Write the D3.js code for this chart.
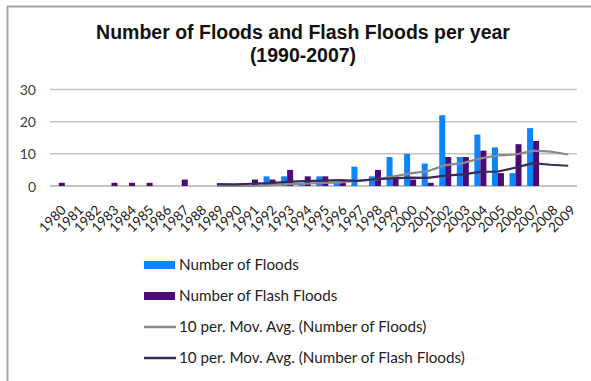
<!DOCTYPE html>
<html>
<head>
<meta charset="utf-8">
<script src="https://cdn.jsdelivr.net/npm/d3@7"></script>
<style>
  html, body { margin: 0; padding: 0; background: #fff; }
  svg { display: block; }
</style>
</head>
<body>
<svg id="chart" width="591" height="381"></svg>
<script>
// Yearly counts, 1980-2009
const years = d3.range(1980, 2010).map(String);
const floods      = [0,0,0,0,0,0,0,0,0,0, 0,0,3,3,1,3,1,6,3,9, 10,7,22,9,16,12,4,18,0,0];
const flashFloods = [1,0,0,1,1,1,0,2,0,0, 0,2,2,5,3,3,1,0,5,3, 2,1,9,9,11,4,13,14,0,0];

// 10-period moving averages, plotted from 1989 onward
const maYears       = d3.range(1989, 2010).map(String);
const floodsMA      = [0,0,0,0.3,0.6,0.7,1.0,1.1,1.7,2.0,2.9,3.9,4.6,6.5,7.1,8.6,9.5,9.8,11.0,10.7,9.8];
const flashFloodsMA = [0.6,0.5,0.7,0.9,1.3,1.5,1.7,1.8,1.6,2.1,2.4,2.6,2.5,3.2,3.6,4.4,4.5,5.7,7.1,6.6,6.3];

const yTicks = [0, 10, 20, 30];
const titleLines = ["Number of Floods and Flash Floods per year", "(1990-2007)"];
const legendLabels = [
  "Number of Floods",
  "Number of Flash Floods",
  "10 per. Mov. Avg. (Number of Floods)",
  "10 per. Mov. Avg. (Number of Flash Floods)"
];

const colors = {
  floods: "#0a84ff",
  flash: "#4b0a78",
  floodsMA: "#8a8a8a",
  flashMA: "#3b2a55",
  grid: "#c4c4c4",
  text: "#404040"
};

const svg = d3.select("#chart");

// Frame edges
svg.append("line").attr("x1", 7).attr("x2", 591).attr("y1", 6.5).attr("y2", 6.5)
  .attr("stroke", "#a6a6a6").attr("stroke-width", 2);
svg.append("line").attr("x1", 7.5).attr("x2", 7.5).attr("y1", 6).attr("y2", 381)
  .attr("stroke", "#a6a6a6").attr("stroke-width", 2);

// Title
svg.append("text")
  .attr("x", 303).attr("text-anchor", "middle")
  .attr("font-family", "Liberation Sans, Arial, sans-serif")
  .attr("font-weight", "bold").attr("font-size", 19.5).attr("fill", "#111")
  .selectAll("tspan").data(titleLines).join("tspan")
  .attr("x", 303).attr("y", (d, i) => 39 + i * 23)
  .text(d => d);

const plot = { left: 50, right: 577, top: 89.5, bottom: 186 };

const x = d3.scaleBand().domain(years).range([plot.left, plot.right]).paddingInner(0).paddingOuter(0);
const step = x.step();
const groupW = 12;
const xSub = d3.scaleBand().domain(["floods", "flash"]).range([0, groupW]);
const y = d3.scaleLinear().domain([0, 30]).range([plot.bottom, plot.top]);

// Gridlines
svg.append("g").selectAll("line").data(yTicks).join("line")
  .attr("x1", plot.left).attr("x2", plot.right)
  .attr("y1", d => y(d)).attr("y2", d => y(d))
  .attr("stroke", d => d === 0 ? "#b0b0b0" : colors.grid)
  .attr("stroke-width", 1.5);

// Y axis labels
const yAxis = d3.axisLeft(y).tickValues(yTicks).tickSize(0).tickPadding(0);
const yG = svg.append("g").attr("transform", `translate(36,0)`).call(yAxis);
yG.select(".domain").remove();
yG.selectAll("text")
  .attr("font-family", "Lato, sans-serif").attr("font-size", 14)
  .attr("fill", colors.text).attr("dy", "0.36em");

// X axis labels (rotated)
const xAxis = d3.axisBottom(x).tickSize(0).tickPadding(0);
const xG = svg.append("g").attr("transform", `translate(0,${plot.bottom})`).call(xAxis);
xG.select(".domain").remove();
xG.selectAll(".tick text")
  .attr("font-family", "Lato, sans-serif").attr("font-size", 13.5)
  .attr("fill", "#222")
  .attr("text-anchor", "end")
  .attr("dy", 0).attr("y", 0)
  .attr("transform", "translate(8,25) rotate(-45)");

// Bars
const barData = years.map((yr, i) => ({ yr, floods: floods[i], flash: flashFloods[i] }));
const groups = svg.append("g").selectAll("g").data(barData).join("g")
  .attr("transform", d => `translate(${x(d.yr) + (step - groupW) / 2},0)`);
groups.selectAll("rect")
  .data(d => [{ k: "floods", v: d.floods }, { k: "flash", v: d.flash }])
  .join("rect")
  .attr("x", d => xSub(d.k))
  .attr("width", xSub.bandwidth())
  .attr("y", d => y(d.v))
  .attr("height", d => y(0) - y(d.v))
  .attr("fill", d => d.k === "floods" ? colors.floods : colors.flash);

// Moving average lines
const line = d3.line()
  .x(d => x(d.yr) + step / 2)
  .y(d => y(d.v));
svg.append("path")
  .datum(maYears.map((yr, i) => ({ yr, v: floodsMA[i] })))
  .attr("d", line).attr("fill", "none")
  .attr("stroke", colors.floodsMA).attr("stroke-width", 2.2);
svg.append("path")
  .datum(maYears.map((yr, i) => ({ yr, v: flashFloodsMA[i] })))
  .attr("d", line).attr("fill", "none")
  .attr("stroke", colors.flashMA).attr("stroke-width", 2.2);

// Legend
const legend = svg.append("g").attr("transform", "translate(144,265)");
const items = legend.selectAll("g").data(legendLabels).join("g")
  .attr("transform", (d, i) => `translate(0,${i * 31})`);
items.each(function (d, i) {
  const g = d3.select(this);
  if (i < 2) {
    g.append("rect").attr("x", 0).attr("y", -4).attr("width", 31).attr("height", 8)
      .attr("fill", i === 0 ? colors.floods : colors.flash);
  } else {
    g.append("line").attr("x1", 0).attr("x2", 32).attr("y1", 0).attr("y2", 0)
      .attr("stroke", i === 2 ? colors.floodsMA : colors.flashMA).attr("stroke-width", 2.5);
  }
  g.append("text").attr("x", 35).attr("y", 0).attr("dy", "0.35em")
    .attr("font-family", "Lato, sans-serif").attr("font-size", 15.2)
    .attr("fill", "#222").text(d);
});
</script>
</body>
</html>
